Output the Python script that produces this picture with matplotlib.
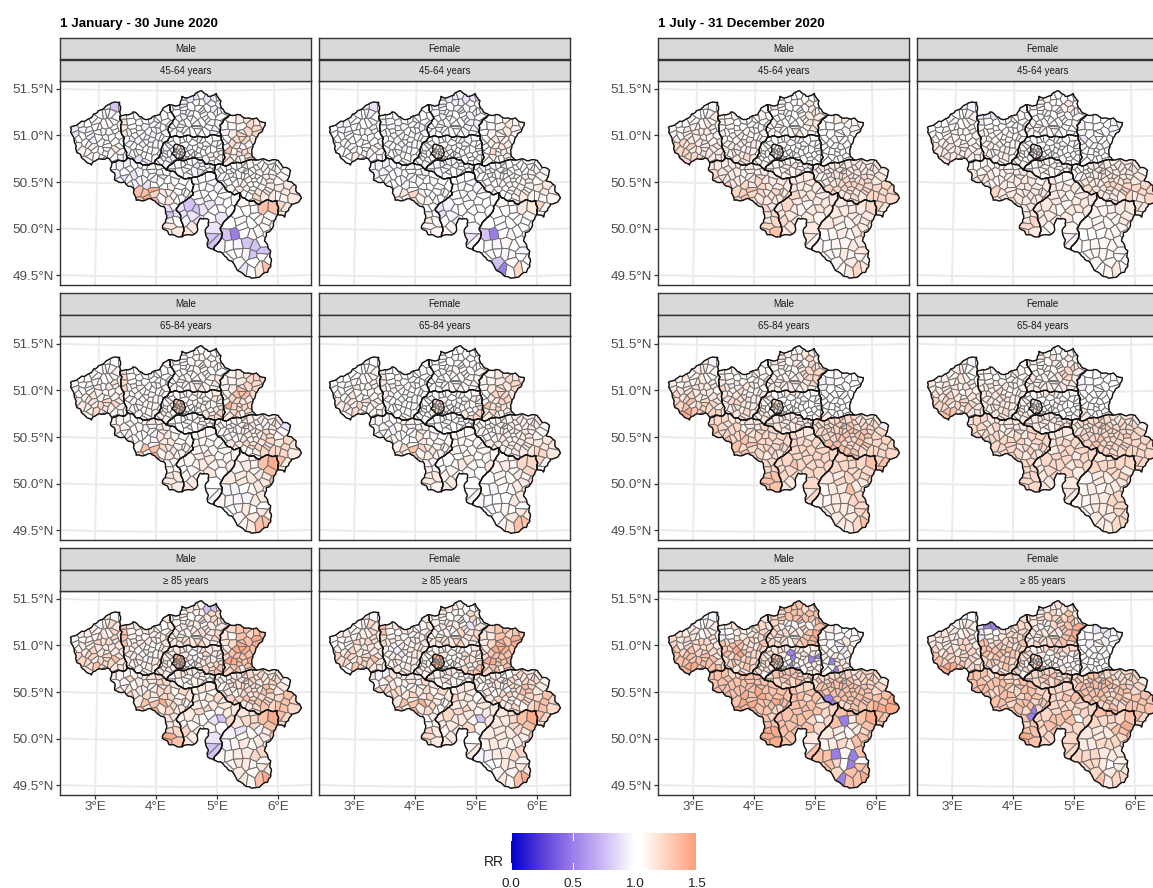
import numpy as np
import matplotlib
matplotlib.use("Agg")
import matplotlib.pyplot as plt
from matplotlib.collections import PolyCollection
from matplotlib.colors import LinearSegmentedColormap, Normalize

plt.rcParams['font.family'] = ['Liberation Sans', 'DejaVu Sans']

# ---------------- data ----------------
PERIODS = ["1 January - 30 June 2020", "1 July - 31 December 2020"]
SEXES = ["Male", "Female"]
AGES = ["45-64 years", "65-84 years", "\u2265 85 years"]
LON_TICKS = [3, 4, 5, 6]
LAT_TICKS = [49.5, 50.0, 50.5, 51.0, 51.5]
RR_TICKS = [0.0, 0.5, 1.0, 1.5]
RR_LEVELS = [0.5, 0.78, 0.9, 0.96, 1.0, 1.1, 1.16, 1.24, 1.34, 1.45]

PROVINCES = {
 "WF": [(2.53,51.09),(2.72,51.16),(2.92,51.24),(3.13,51.33),(3.19,51.35),(3.36,51.37),(3.37,51.22),(3.39,51.08),(3.44,50.92),(3.5,50.78),(3.45,50.74),(3.25,50.72),(3.16,50.77),(3.03,50.76),(2.9,50.69),(2.8,50.73),(2.72,50.79),(2.65,50.82),(2.6,50.95)],
 "EF": [(3.37,51.22),(3.47,51.24),(3.59,51.27),(3.76,51.2),(3.9,51.2),(4.04,51.24),(4.2,51.35),(4.3,51.2),(4.19,51.1),(4.22,51.0),(4.1,50.92),(4.05,50.79),(3.96,50.72),(3.87,50.7),(3.5,50.78),(3.44,50.92),(3.39,51.08)],
 "ANT": [(4.2,51.35),(4.39,51.35),(4.42,51.44),(4.64,51.45),(4.76,51.5),(4.87,51.44),(5.01,51.47),(5.09,51.39),(5.1,51.31),(5.24,51.24),(5.07,51.13),(5.09,51.02),(4.8,51.0),(4.5,51.02),(4.22,51.0),(4.19,51.1),(4.3,51.2)],
 "LIM": [(5.09,51.02),(5.07,51.13),(5.24,51.24),(5.5,51.2),(5.84,51.15),(5.7,51.0),(5.61,50.79),(5.68,50.75),(5.29,50.72),(5.11,50.70),(5.12,50.88)],
 "VB": [(4.22,51.0),(4.5,51.02),(4.8,51.0),(5.09,51.02),(5.12,50.88),(5.11,50.70),(4.98,50.70),(4.67,50.77),(4.42,50.75),(4.22,50.70),(4.16,50.65),(3.96,50.72),(4.05,50.79),(4.1,50.92)],
 "BXL": [(4.3,50.92),(4.42,50.91),(4.48,50.84),(4.44,50.77),(4.34,50.77),(4.25,50.82)],
 "WB": [(4.22,50.70),(4.42,50.75),(4.67,50.77),(4.98,50.70),(4.98,50.61),(4.73,50.59),(4.58,50.56),(4.39,50.58),(4.16,50.65)],
 "HAI": [(3.25,50.72),(3.45,50.74),(3.5,50.78),(3.87,50.7),(3.96,50.72),(4.16,50.65),(4.39,50.58),(4.58,50.56),(4.61,50.38),(4.33,50.23),(4.42,50.09),(4.43,49.93),(4.22,49.95),(4.1,50.02),(4.17,50.16),(4.13,50.25),(3.88,50.34),(3.66,50.32),(3.61,50.45),(3.3,50.53),(3.22,50.66)],
 "NAM": [(4.58,50.56),(4.73,50.59),(4.98,50.61),(5.04,50.52),(5.29,50.38),(5.4,50.40),(5.29,50.20),(5.24,50.16),(5.06,50.02),(5.09,49.95),(4.95,49.79),(4.85,49.82),(4.81,49.98),(4.87,50.11),(4.73,50.13),(4.67,49.98),(4.43,49.93),(4.42,50.09),(4.33,50.23),(4.61,50.38)],
 "LIE": [(4.98,50.70),(5.11,50.70),(5.29,50.72),(5.68,50.75),(5.91,50.74),(6.05,50.74),(6.25,50.63),(6.19,50.52),(6.33,50.47),(6.42,50.33),(6.25,50.27),(6.2,50.2),(6.13,50.13),(6.02,50.16),(6.01,50.31),(5.85,50.32),(5.72,50.27),(5.4,50.40),(5.29,50.38),(5.04,50.52),(4.98,50.61)],
 "LUX": [(5.4,50.40),(5.72,50.27),(5.85,50.32),(6.01,50.31),(6.02,50.16),(5.93,50.02),(5.79,49.88),(5.9,49.66),(5.83,49.54),(5.48,49.5),(5.3,49.61),(5.17,49.7),(4.95,49.79),(5.09,49.95),(5.06,50.02),(5.24,50.16),(5.29,50.20)],
}
ORDER = ["WF", "EF", "ANT", "LIM", "VB", "BXL", "WB", "HAI", "NAM", "LIE", "LUX"]
# share of areas drawn as two municipalities with the same RR class
SPLIT_SHARE = {"WF": .7, "EF": .75, "ANT": .95, "LIM": .6, "VB": .95, "BXL": 1.0, "WB": .9, "HAI": .5, "NAM": .3, "LIE": .8, "LUX": .2}

AREA_CENTRES = {
 "WF": [(3.15,51.30),(3.32,51.31),
        (2.95,51.2),(3.08,51.23),(3.22,51.22),(3.31,51.2),
        (2.72,51.1),(2.82,51.14),(2.95,51.12),(3.07,51.13),(3.2,51.12),(3.32,51.11),
        (2.62,51.03),(2.75,51.02),(2.88,51.03),(3.0,51.03),(3.12,51.04),(3.24,51.04),(3.35,51.03),
        (2.65,50.94),(2.78,50.93),(2.9,50.95),(3.02,50.95),(3.14,50.95),(3.26,50.95),(3.37,50.94),
        (2.72,50.85),(2.85,50.85),(2.97,50.86),(3.08,50.86),(3.2,50.86),(3.32,50.85),(3.42,50.83),
        (2.87,50.75),(3.0,50.78),(3.13,50.8),(3.27,50.77),(3.38,50.77)],
 "EF": [(3.45,51.2),(3.58,51.21),(3.72,51.17),(3.86,51.16),(3.98,51.17),(4.1,51.2),(4.2,51.27),
        (3.45,51.11),(3.55,51.12),(3.66,51.1),(3.78,51.09),(3.9,51.08),(4.01,51.1),(4.12,51.12),(4.21,51.14),
        (3.45,51.02),(3.56,51.03),(3.67,51.01),(3.78,51.0),(3.9,51.0),(4.02,51.01),(4.14,51.03),
        (3.5,50.94),(3.61,50.93),(3.72,50.92),(3.84,50.92),(3.96,50.93),(4.07,50.95),
        (3.53,50.85),(3.65,50.84),(3.76,50.84),(3.88,50.84),(4.0,50.85),
        (3.6,50.77),(3.72,50.76),(3.85,50.76),(3.97,50.77)],
 "ANT": [(4.47,51.41),(4.6,51.41),(4.75,51.43),(4.92,51.39),(5.04,51.41),
         (4.3,51.31),(4.42,51.31),(4.55,51.32),(4.68,51.33),(4.82,51.32),(4.95,51.31),(5.07,51.3),
         (4.38,51.22),(4.47,51.24),(4.58,51.24),(4.7,51.24),(4.83,51.24),(4.97,51.23),(5.1,51.21),
         (4.3,51.13),(4.4,51.15),(4.5,51.15),(4.62,51.15),(4.74,51.16),(4.87,51.15),(5.0,51.13),
         (4.27,51.05),(4.38,51.06),(4.5,51.07),(4.62,51.07),(4.74,51.07),(4.86,51.06),(5.0,51.05)],
 "LIM": [(5.3,51.2),(5.45,51.17),(5.6,51.16),(5.75,51.12),
         (5.15,51.1),(5.28,51.11),(5.42,51.08),(5.55,51.07),(5.68,51.05),
         (5.14,51.0),(5.26,51.01),(5.38,50.99),(5.5,50.98),(5.62,50.96),
         (5.17,50.92),(5.28,50.92),(5.39,50.9),(5.5,50.88),(5.58,50.87),
         (5.18,50.82),(5.28,50.84),(5.38,50.81),(5.48,50.8),(5.57,50.78),
         (5.2,50.75),(5.33,50.75),(5.45,50.75)],
 "VB": [(4.25,50.95),(4.37,50.96),(4.48,50.97),(4.6,50.97),(4.72,50.96),(4.85,50.96),(4.98,50.96),
        (4.14,50.87),(4.24,50.88),(4.52,50.89),(4.63,50.89),(4.74,50.89),(4.86,50.88),(4.98,50.88),(5.07,50.9),
        (4.08,50.8),(4.18,50.8),(4.54,50.81),(4.65,50.81),(4.76,50.81),(4.88,50.8),(5.0,50.8),(5.08,50.8),
        (4.04,50.75),(4.14,50.73),(4.28,50.73),(4.27,50.79),(4.4,50.76),(4.48,50.79),(4.58,50.78),(4.9,50.76),(5.04,50.73)],
 "BXL": [(4.33,50.88),(4.4,50.88),(4.3,50.84),(4.37,50.85),(4.44,50.84),(4.33,50.8),(4.39,50.81),(4.35,50.83),(4.42,50.8)],
 "WB": [(4.28,50.67),(4.39,50.7),(4.5,50.71),(4.6,50.72),(4.72,50.72),(4.83,50.7),(4.93,50.67),
        (4.4,50.63),(4.5,50.63),(4.6,50.64),(4.72,50.65),(4.84,50.63)],
 "HAI": [(3.3,50.7),(3.42,50.68),(3.55,50.69),(3.68,50.69),(3.8,50.67),(3.92,50.66),(4.05,50.66),
         (3.33,50.61),(3.45,50.6),(3.57,50.6),(3.7,50.59),(3.82,50.58),(3.95,50.58),(4.07,50.58),(4.18,50.58),(4.3,50.57),(4.45,50.54),
         (3.45,50.51),(3.58,50.5),(3.7,50.5),(3.83,50.49),(3.96,50.49),(4.09,50.49),(4.22,50.49),(4.35,50.48),(4.5,50.46),
         (3.72,50.4),(3.85,50.4),(3.98,50.4),(4.12,50.39),(4.25,50.4),(4.38,50.39),(4.52,50.4),
         (3.8,50.33),(3.95,50.31),(4.08,50.3),(4.2,50.31),(4.33,50.31),(4.47,50.31),
         (4.2,50.2),(4.3,50.19),
         (4.22,50.1),(4.35,50.1),
         (4.2,50.0),(4.33,49.99)],
 "NAM": [(4.68,50.53),(4.8,50.53),(4.92,50.54),
         (4.65,50.45),(4.77,50.45),(4.9,50.45),(5.02,50.45),(5.13,50.43),
         (4.68,50.35),(4.8,50.35),(4.93,50.35),(5.05,50.33),(5.17,50.32),(5.3,50.3),
         (4.42,50.2),(4.55,50.25),(4.68,50.25),(4.82,50.24),(4.96,50.23),(5.1,50.22),(5.22,50.22),
         (4.5,50.12),(4.63,50.11),(4.92,50.15),(5.06,50.13),
         (4.55,50.02),(4.95,50.02),(4.88,49.9),(4.97,49.88)],
 "LIE": [(5.05,50.66),(5.15,50.65),(5.25,50.66),(5.35,50.67),(5.45,50.68),(5.55,50.69),(5.65,50.7),(5.77,50.69),(5.9,50.69),(6.03,50.69),
         (5.1,50.59),(5.2,50.59),(5.3,50.6),(5.4,50.61),(5.5,50.62),(5.57,50.6),(5.66,50.62),(5.76,50.62),(5.87,50.62),(6.0,50.62),(6.13,50.63),
         (5.18,50.51),(5.29,50.52),(5.4,50.53),(5.5,50.54),(5.6,50.53),(5.7,50.54),(5.8,50.54),(5.92,50.53),(6.05,50.53),
         (5.3,50.43),(5.42,50.44),(5.54,50.45),(5.66,50.45),(5.78,50.45),(5.9,50.44),(6.03,50.44),(6.2,50.45),
         (5.5,50.36),(5.63,50.35),(5.77,50.37),(5.93,50.37),(6.1,50.35),(6.25,50.37),
         (6.1,50.27),(6.12,50.17)],
 "LUX": [(5.5,50.3),(5.6,50.28),
         (5.37,50.2),(5.5,50.2),(5.63,50.2),(5.78,50.22),(5.93,50.22),
         (5.25,50.08),(5.38,50.08),(5.52,50.08),(5.68,50.1),(5.83,50.1),(5.95,50.08),
         (5.17,49.95),(5.3,49.96),(5.45,49.96),(5.6,49.97),(5.75,49.98),(5.85,49.97),
         (5.07,49.83),(5.2,49.84),(5.35,49.84),(5.5,49.85),(5.65,49.85),(5.75,49.85),
         (5.22,49.73),(5.35,49.74),(5.48,49.74),(5.6,49.73),(5.73,49.74),(5.83,49.72),
         (5.35,49.63),(5.47,49.6),(5.58,49.6),(5.7,49.6),(5.82,49.6)],
}

# RR classes per area (index into RR_LEVELS), province by province, north to south
M45_H1 = ["31 4434 344544 2434345 4434544 5544465 45545", "6444344 64434344 6344334 443434 34443 3244", "32423 3244434 4344344 3344443 4434443",
          "5676 44577 46776 47656 85677 665", "3444344 34344445 33434555 434343435", "666666666", "3434434 44324",
          "4344455 3423436444 443244544 8976545 885644 12 54 66", "443 44434 434344 2112444 3242 6211",
          "4444554435 34344445554 444544565 56555666 476656 76", "54 44488 454555 104554 343114 443114 42468"]
F45_H1 = ["42 4334 334444 4344454 4344445 4454555 46544", "5434344 53434434 5433434 443344 34344 4344", "32324 4243344 4334434 4344433 3434434",
          "4565 44565 45655 46565 47565 554", "3444434 34344345 34443444 434434345", "666666666", "4343434 33434",
          "3344454 3343344444 444344454 5575444 675544 34 65 55", "443 43434 443444 2344444 4344 5323",
          "4344544444 44334444455 444544565 55455566 456555 75", "54 44466 444445 104544 443544 443534 10474"]
M65_H1 = ["54 5455 455455 5456465 5565556 6657675 57655", "7455445 74545454 7454445 554454 45455 4554", "45545 5454555 4545544 4554556 5545654",
          "5677 55677 56887 57767 97775 675", "5455456 45456556 45445566 555454567", "888888888", "4454554 45455",
          "5554566 6545535644 564456655 5587655 895655 55 66 66", "454 55554 565455 4556556 5564 6443",
          "5455665656 44555665562 545655775 66766767 567776 86", "55 56589 666668 334566 553366 456446 55688"]
F65_H1 = ["54 4455 445455 5456455 5465455 6657565 57555", "6454445 64545444 6454445 544454 45445 4454", "44445 4544544 4545445 4544555 4545554",
          "5676 55667 46776 56676 86765 665", "4454445 45445556 45345456 545454567", "777777777", "4454454 44445",
          "4544555 3535436554 465446555 5587655 785655 55 66 65", "454 45454 545455 4456546 5554 6443",
          "5455655656 54555565564 545655665 66656666 566676 75", "55 56577 455657 434566 544466 345446 45688"]
M85_H1 = ["65 6376 565656 5657676 5676666 7757786 68766", "8656546 85656565 8566456 664356 66566 5565", "56516 5645676 5656566 6556767 6676765",
          "7878 65889 67998 78889 99887 786", "6665566 65636766 56456677 656565678", "999999999", "5656655 54565",
          "6575667 4556566767 676767756 6689765 896766 66 77 98", "565 65675 676566 5664217 7554 6211",
          "6566776766 56766776675 656766886 77877778 678787 87", "66 67789 325368 356566 556677 566556 66589"]
F85_H1 = ["65 5476 565656 5457676 5676566 7757786 48766", "8646556 75646565 7556466 563466 56556 5665", "66546 5645376 5656526 5555767 6676765",
          "7878 66889 67998 78889 99887 786", "5565546 55456766 56455667 656543678", "999999999", "6566655 56545",
          "6376565 4565465767 767676756 6689765 896755 45 76 76", "566 76646 676566 6766516 5675 6456",
          "6566546766 55766676775 645376886 67667778 675787 87", "66 66789 666768 566566 336677 446656 56589"]
M45_H2 = ["43 5456 455565 5566665 6766656 7756666 77666", "5545454 55445454 5456445 565565 66665 5676", "55445 6544565 4544466 5544566 5545654",
          "4655 44455 44544 44454 44444 445", "4445554 54544444 54444444 555454444", "666666666", "5555555 56565",
          "6666565 7666566666 676767666 7877676 776666 67 67 78", "666 66666 766666 6765666 7665 6665",
          "6666666666 55666666665 666776776 77777777 676777 76", "65 66667 665666 456566 545566 556565 55676"]
F45_H2 = ["43 3455 445455 4455555 5565555 6656656 66555", "3245455 54545454 5545445 565555 55565 5565", "55445 5454565 4544454 5454545 5545544",
          "4443 34443 24444 44454 44444 445", "4445545 54544444 54445444 555454444", "666666666", "5555555 55555",
          "5565555 6565565665 665656666 7666666 676666 66 67 76", "655 66665 665666 6665666 6665 5555",
          "5566665666 45566666665 666676676 76677777 666767 66", "55 55566 555566 444555 545555 455554 54565"]
M65_H2 = ["63 4645 565655 6666665 7676566 7857776 98777", "5545654 65656454 7657455 676656 67666 5676", "65565 6656576 5545677 6555677 6656565",
          "4544 33444 44454 44444 54445 655", "5446545 56445444 66445444 565464445", "777777777", "6666666 66666",
          "7766566 8777767777 787877777 8877777 777676 77 88 88", "766 77776 777777 7787777 7777 6767",
          "7777777666 77777887775 778878887 88778777 887777 78", "77 77778 667777 566866 556677 666677 66678"]
F65_H2 = ["63 4645 565655 6666565 6676566 7757776 88666", "5545654 55656454 6657455 666656 66666 5676", "65455 6556566 5545676 6555676 6656565",
          "4544 34444 44454 44444 44445 645", "5446545 55445444 56445444 565454445", "666666666", "6666666 66566",
          "6766566 7767667677 777777677 7776767 777676 77 77 77", "666 67776 677677 6777677 6776 6666",
          "6767776666 67677777775 777777787 78777777 777777 77", "66 77777 566776 565666 556677 566677 66677"]
M85_H2 = ["43 6556 666465 7677776 8787776 8888887 99888", "4665676 34667677 8788668 879777 78787 7687", "78878 7788888 7545558 7676689 7765788",
          "6445 55464 54426 55656 50565 507", "5666656 77405606 77504564 756655656", "888888888", "7878878 78787",
          "8887888 8888888888 888989888 8898898 998877 88 99 99", "878 88786 888877 8888747 8887 8658",
          "6777776777 88888887776 888888887 08888888 788899 88", "88 80689 665678 567688 880508 874058 70889"]
F85_H2 = ["54 6565 666565 6666776 7676776 8777776 99877", "2056677 25667777 8878768 878787 78787 7687", "66666 6677786 6557789 6666689 6767787",
          "4224 44534 43454 44555 44445 544", "6567777 77555555 77555455 755565665", "777777777", "7777777 78787",
          "8877877 8888878887 887887887 8878878 888707 78 88 98", "777 77887 777777 7788847 7877 7777",
          "7778777677 88888887776 888878887 88878788 787888 87", "88 77778 666889 667777 777666 776456 78677"]

PANELS = [[M45_H1, F45_H1, M45_H2, F45_H2],
          [M65_H1, F65_H1, M65_H2, F65_H2],
          [M85_H1, F85_H1, M85_H2, F85_H2]]

# ---------------- styling ----------------
W, H = 1153, 888
COL_X = [60, 319, 658, 917]
ROW_Y = [81, 336, 591]
PW, PH, SH = 251, 204, 21.5
XLIM = (-2.12, 2.087)
YLIM = (49.412, 51.605)
DARK = "#333333"

cmap = LinearSegmentedColormap.from_list("rr", [
    (0.0, "#0000CD"), (1/6, "#5A3FD8"), (1/3, "#9B7EEA"), (0.5, "#CDBBF5"),
    (0.62, "#F3ECFD"), (2/3, "#FFFFFF"), (0.71, "#FFFFFF"), (5/6, "#FFD6C4"), (1.0, "#FFA07A")])
norm = Normalize(0, 1.5)


def proj(lon, lat):
    lon, lat = np.asarray(lon, float), np.asarray(lat, float)
    d = lon - 4.5
    return d * np.cos(np.radians(lat)) / np.cos(np.radians(50.5)), lat + 0.0096 * (d / 1.5) ** 2


def clip(poly, a, b):
    """Keep the part of poly closer to a than to b (metric space)."""
    m, n = (a + b) / 2, b - a
    s = (poly - m) @ n
    out = []
    for i in range(len(poly)):
        j = (i + 1) % len(poly)
        if s[i] <= 0:
            out.append(poly[i])
        if (s[i] < 0 < s[j]) or (s[j] < 0 < s[i]):
            out.append(poly[i] + (poly[j] - poly[i]) * s[i] / (s[i] - s[j]))
    return np.array(out) if len(out) >= 3 else None


def roughen(poly, levels=3, amp=0.13):
    """Break long straight border runs; the same edge bends the same way in both neighbours."""
    for _ in range(levels):
        out = []
        for i in range(len(poly)):
            a, b = poly[i], poly[(i + 1) % len(poly)]
            m = (a + b) / 2
            L = np.linalg.norm(b - a)
            out.append(a)
            if L > 2.2:
                out.append(m + amp * L * np.array([np.sin(0.37 * m[0] + 0.91 * m[1]), np.cos(0.53 * m[0] - 0.71 * m[1])]))
        poly = np.array(out)
    return poly


METRIC = np.array([59.66, 93.0])
CELLS, PARENT, OUTLINES = {}, {}, {}
for pname in ORDER:
    pts = np.array(PROVINCES[pname])
    boundary = roughen(np.column_stack(proj(pts[:, 0], pts[:, 1])) * METRIC)
    OUTLINES[pname] = boundary / METRIC
    cs = np.array(AREA_CENTRES[pname])
    base = np.column_stack(proj(cs[:, 0], cs[:, 1])) * METRIC
    step = 2.2 if pname == "BXL" else (4.4 if pname in ("LUX", "NAM", "HAI") else 3.3)
    seeds, parent = [], []
    for i, s in enumerate(base):
        t = ((i + 1) * 0.618034) % 1
        ang = 2 * np.pi * (((i + 1) * 0.7548777) % 1)
        ang2 = 2 * np.pi * (((i + 1) * 0.5698403) % 1)
        s2 = s + (0.6 if pname == "BXL" else 2.0) * np.array([np.cos(ang2), np.sin(ang2)])
        if t < SPLIT_SHARE[pname]:
            d = step * np.array([np.cos(ang), np.sin(ang)])
            seeds += [s2 + d, s2 - d]
            parent += [i, i]
        else:
            seeds.append(s2)
            parent.append(i)
    seeds = np.array(seeds)
    polys, owners = [], []
    for i, s in enumerate(seeds):
        poly = boundary
        for k in np.argsort(np.linalg.norm(seeds - s, axis=1)):
            if k == i or poly is None:
                continue
            poly = clip(poly, s, seeds[k])
        if poly is not None:
            polys.append(poly / METRIC)
            owners.append(parent[i])
    CELLS[pname], PARENT[pname] = polys, np.array(owners)


def values_of(panel):
    vals = {}
    for pname, codes in zip(ORDER, panel):
        c = codes.replace(" ", "")
        n = len(AREA_CENTRES[pname])
        c = (c + c[-1] * n)[:n]
        vals[pname] = np.array([RR_LEVELS[int(ch)] for ch in c])
    return vals


fig = plt.figure(figsize=(W / 100, H / 100), dpi=100)


def pixel_axes(x, y, w, h, **kw):
    return fig.add_axes([x / W, 1 - (y + h) / H, w / W, h / H], **kw)


for r, top in enumerate(ROW_Y):
    for c, left in enumerate(COL_X):
        ax = pixel_axes(left, top, PW, PH)
        ax.set_xlim(*XLIM)
        ax.set_ylim(*YLIM)
        for lon in LON_TICKS:
            la = np.array([49.2, 51.8])
            x, y = proj(np.full(2, lon), la)
            ax.plot(x, y, color="#EBEBEB", lw=1.4, zorder=1)
        for lat in LAT_TICKS:
            lo = np.array([2.0, 3.0, 4.0, 4.5, 5.0, 6.0, 7.0])
            x, y = proj(lo, np.full(7, lat))
            ax.plot(x, y, color="#EBEBEB", lw=1.4, zorder=1)
        vals = values_of(PANELS[r][c])
        for pname in ORDER:
            outline = plt.Polygon(OUTLINES[pname], closed=True, fill=False, edgecolor="#111111", lw=1.0,
                                  joinstyle="round", zorder=3)
            ax.add_patch(outline)
            pc = PolyCollection(CELLS[pname], array=vals[pname][PARENT[pname]], cmap=cmap, norm=norm,
                                edgecolors="#6E6E6E", linewidths=0.7, zorder=2)
            ax.add_collection(pc)
            pc.set_clip_path(outline)
        for s in ax.spines.values():
            s.set_color(DARK)
            s.set_linewidth(1.0)
        ax.tick_params(length=3, width=0.9, color=DARK, labelcolor="#4D4D4D", labelsize=9.7, pad=1.5)
        if r == 2:
            ax.set_xticks([float(proj(l, YLIM[0])[0]) for l in LON_TICKS])
            ax.set_xticklabels([f"{l}\u00b0E" for l in LON_TICKS])
        else:
            ax.set_xticks([])
        if c in (0, 2):
            ax.set_yticks([float(proj(4.5 + XLIM[0], l)[1]) for l in LAT_TICKS])
            ax.set_yticklabels([f"{l:.1f}\u00b0N" for l in LAT_TICKS])
        else:
            ax.set_yticks([])
        for k, label in enumerate([SEXES[c % 2], AGES[r]]):
            st = pixel_axes(left, top - 2 * SH + k * SH, PW, SH)
            st.set_facecolor("#D9D9D9")
            st.set_xticks([])
            st.set_yticks([])
            for s in st.spines.values():
                s.set_color(DARK)
                s.set_linewidth(1.0)
            st.text(0.5, 0.48, label, transform=st.transAxes, ha="center", va="center",
                    fontsize=7, color="#1A1A1A")

fig.text(60 / W, 1 - 23.5 / H, PERIODS[0], fontsize=9.6, fontweight="bold", color="black", va="center")
fig.text(658 / W, 1 - 23.5 / H, PERIODS[1], fontsize=9.6, fontweight="bold", color="black", va="center")

# legend
cb = pixel_axes(511, 833, 185, 37)
grad = np.linspace(0, 1.5, 400)[None, :]
cb.imshow(grad, extent=(0, 1.5, 0, 1), aspect="auto", cmap=cmap, norm=norm)
cb.set_xlim(0, 1.5)
cb.set_ylim(0, 1)
cb.set_yticks([])
for s in cb.spines.values():
    s.set_visible(False)
cb.set_xticks(RR_TICKS)
cb.set_xticklabels([f"{v:.1f}" for v in RR_TICKS])
cb.tick_params(length=0, labelsize=9.7, labelcolor="#222222", pad=6)
for v in RR_TICKS:
    cb.plot([v, v], [0, 0.2], color="white", lw=0.7)
    cb.plot([v, v], [0.8, 1], color="white", lw=0.7)
fig.text(484 / W, 1 - 862 / H, "RR", fontsize=10, color="#222222", va="center")

fig.savefig("out.png", dpi=100)
